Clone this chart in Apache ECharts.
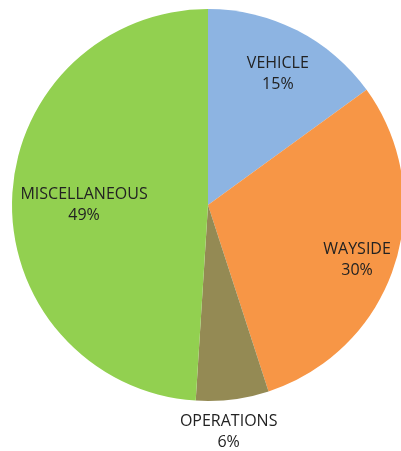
<!DOCTYPE html>
<html>
<head>
<meta charset="utf-8">
<script src="https://cdn.jsdelivr.net/npm/echarts@6/dist/echarts.min.js"></script>
<style>
  html, body { margin: 0; padding: 0; background: #fff; }
  #chart { width: 401px; height: 451px; }
</style>
</head>
<body>
<div id="chart"></div>
<script>
  var categories = ['VEHICLE', 'WAYSIDE', 'OPERATIONS', 'MISCELLANEOUS'];
  var values = [15, 30, 6, 49];
  var colors = ['#8db4e2', '#f79646', '#948a54', '#92d050'];
  // nudge the inside labels to where the original chart put them
  var labelOffsets = [[24, -41], [53, 24], [8, 127], [-23, 3]];

  var myChart = echarts.init(document.getElementById('chart'));
  var pieData = categories.map(function (name, i) {
    return {
      name: name,
      value: values[i],
      itemStyle: {color: colors[i]},
      label: {offset: labelOffsets[i]}
    };
  });

  var option = {
    animation: false,
    series: [
      {
        type: 'pie',
        center: [208, 205],
        radius: 196,
        startAngle: 90,
        clockwise: true,
        itemStyle: {borderWidth: 0},
        label: {
          show: true,
          position: 'inside',
          formatter: '{b}\n{d}%',
          fontFamily: 'Open Sans',
          fontSize: 16,
          lineHeight: 21,
          color: '#222'
        },
        labelLine: {show: false},
        emphasis: {disabled: true},
        data: pieData
      }
    ]
  };
  myChart.setOption(option);
</script>
</body>
</html>
